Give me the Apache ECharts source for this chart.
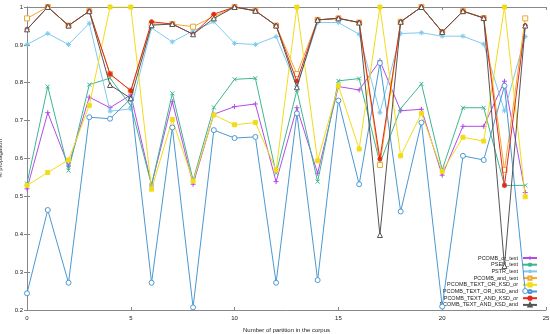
<!DOCTYPE html>
<html><head><meta charset="utf-8">
<script src="https://cdn.jsdelivr.net/npm/echarts@6/dist/echarts.min.js"></script>
<style>html,body{margin:0;padding:0;background:#fff}#c{width:550px;height:334px}</style>
</head><body><div id="c"></div>
<script>
const partitions = [0,1,2,3,4,5,6,7,8,9,10,11,12,13,14,15,16,17,18,19,20,21,22,23,24];
const seriesNames = ["PCOMB_or_text","PSEN_text","PSTR_text","PCOMB_and_text","PCOMB_TEXT_OR_KSD_or","PCOMB_TEXT_OR_KSD_and","PCOMB_TEXT_AND_KSD_or","PCOMB_TEXT_AND_KSD_and"];
const pcombOrText = [0.52,0.721,0.580,0.762,0.734,0.768,0.530,0.750,0.532,0.717,0.737,0.744,0.539,0.734,0.561,0.790,0.781,0.858,0.726,0.730,0.556,0.685,0.685,0.804,0.51];
const psenText = [0.534,0.790,0.568,0.795,0.812,0.740,0.530,0.772,0.543,0.735,0.809,0.812,0.561,0.780,0.539,0.805,0.811,0.587,0.732,0.797,0.570,0.734,0.734,0.529,0.529];
const pstrText = [0.901,0.930,0.901,0.957,0.725,0.731,0.945,0.908,0.937,0.961,0.904,0.901,0.922,0.790,0.959,0.959,0.928,0.721,0.930,0.932,0.923,0.923,0.902,0.726,0.922];
const pcombAndText = [0.970,1.0,0.951,0.989,0.823,0.779,0.955,0.955,0.948,0.975,1.0,0.990,0.951,0.823,0.966,0.970,0.959,0.583,0.961,1.0,0.934,0.989,0.971,0.570,0.970];
const textOrKsdOr = [0.529,0.563,0.596,0.740,1.0,1.0,0.519,0.703,0.540,0.715,0.689,0.695,0.569,1.0,0.594,0.792,0.625,1.0,0.607,0.719,0.566,0.656,0.646,1.0,0.499];
const textOrKsdAnd = [0.244,0.464,0.272,0.709,0.705,0.758,0.272,0.682,0.207,0.675,0.654,0.657,0.272,0.719,0.279,0.753,0.532,0.852,0.460,0.695,0.209,0.607,0.596,0.792,0.25];
const textAndKsdOr = [0.941,1.0,0.951,0.989,0.823,0.779,0.961,0.955,0.928,0.981,1.0,0.990,0.951,0.804,0.966,0.970,0.959,0.599,0.961,1.0,0.934,0.989,0.971,0.529,0.951];
const textAndKsdAnd = [0.941,1.0,0.951,0.989,0.794,0.759,0.952,0.955,0.928,0.970,1.0,0.990,0.951,0.788,0.966,0.970,0.959,0.398,0.961,1.0,0.934,0.989,0.971,0.316,0.951];
const xTicks = [0,5,10,15,20,25];
const yTicks = [0.2,0.3,0.4,0.5,0.6,0.7,0.8,0.9,1];

const allValues = [pcombOrText,psenText,pstrText,pcombAndText,textOrKsdOr,textOrKsdAnd,textAndKsdOr,textAndKsdAnd];
const colors = ["#b34be8","#3fb592","#7fcaee","#f0a830","#f2dc1a","#4a98d2","#e5281a","#555555"];
const symbols = [
  "path://M5,0L5,10M0,5L10,5",
  "path://M0,0L10,10M0,10L10,0",
  "path://M5,0L5,10M0,5L10,5M1.5,1.5L8.5,8.5M1.5,8.5L8.5,1.5",
  "rect","rect","circle","circle","triangle"];
const filled = [false,false,false,false,true,false,true,false];
const sizes = [5,4,5,5,4,5,4,5];

const series = seriesNames.map((name, k) => ({
  name: name,
  type: "line",
  data: partitions.map((p, i) => [p, allValues[k][i]]),
  symbol: symbols[k],
  symbolSize: sizes[k],
  showAllSymbol: true,
  lineStyle: {color: colors[k], width: 1},
  itemStyle: {color: filled[k] ? colors[k] : (k < 3 ? colors[k] : "#ffffff"), borderColor: colors[k], borderWidth: 1},
  emphasis: {disabled: true},
  animation: false,
  z: 2 + k
}));

const chart = echarts.init(document.getElementById("c"), null, {renderer: "canvas"});
const fam = "Liberation Sans";
chart.setOption({
  animation: false,
  textStyle: {fontFamily: fam},
  grid: {left: 27, right: 4, top: 7, bottom: 24, containLabel: false, outerBoundsMode: "none"},
  legend: {
    data: seriesNames,
    orient: "vertical",
    right: 12, top: 255,
    align: "right",
    itemWidth: 14, itemHeight: 4, itemGap: 0.7,
    textStyle: {fontSize: 5.5, color: "#222", fontFamily: fam, lineHeight: 6},
    padding: 0,
    selectedMode: false
  },
  xAxis: [{
    type: "value", min: xTicks[0], max: xTicks[xTicks.length-1], interval: 5,
    name: "Number of partition in the corpus", nameLocation: "middle", nameGap: 17,
    nameTextStyle: {fontSize: 6, color: "#222", fontFamily: fam},
    axisLine: {show: true, lineStyle: {color: "#888", width: 1}},
    axisTick: {show: true, inside: true, length: 3, lineStyle: {color: "#888"}},
    axisLabel: {fontSize: 6, color: "#222", margin: 5, fontFamily: fam},
    splitLine: {show: false}
  },{
    type: "value", position: "top", min: xTicks[0], max: xTicks[xTicks.length-1], interval: 5,
    axisLine: {show: true, lineStyle: {color: "#888", width: 1}},
    axisTick: {show: true, inside: true, length: 3, lineStyle: {color: "#888"}},
    axisLabel: {show: false}, splitLine: {show: false}
  }],
  yAxis: [{
    type: "value", min: yTicks[0], max: yTicks[yTicks.length-1], interval: 0.1,
    name: "% propagation", nameLocation: "middle", nameGap: 18,
    nameTextStyle: {fontSize: 6, color: "#222", fontFamily: fam},
    axisLine: {show: true, lineStyle: {color: "#888", width: 1}},
    axisTick: {show: true, inside: true, length: 3, lineStyle: {color: "#888"}},
    axisLabel: {fontSize: 6, color: "#222", margin: 4, fontFamily: fam,
      formatter: v => String(Math.round(v*10)/10)},
    splitLine: {show: false}
  },{
    type: "value", position: "right", min: yTicks[0], max: yTicks[yTicks.length-1], interval: 0.1,
    axisLine: {show: true, lineStyle: {color: "#888", width: 1}},
    axisTick: {show: true, inside: true, length: 3, lineStyle: {color: "#888"}},
    axisLabel: {show: false}, splitLine: {show: false}
  }],
  series: series
});
</script></body></html>
